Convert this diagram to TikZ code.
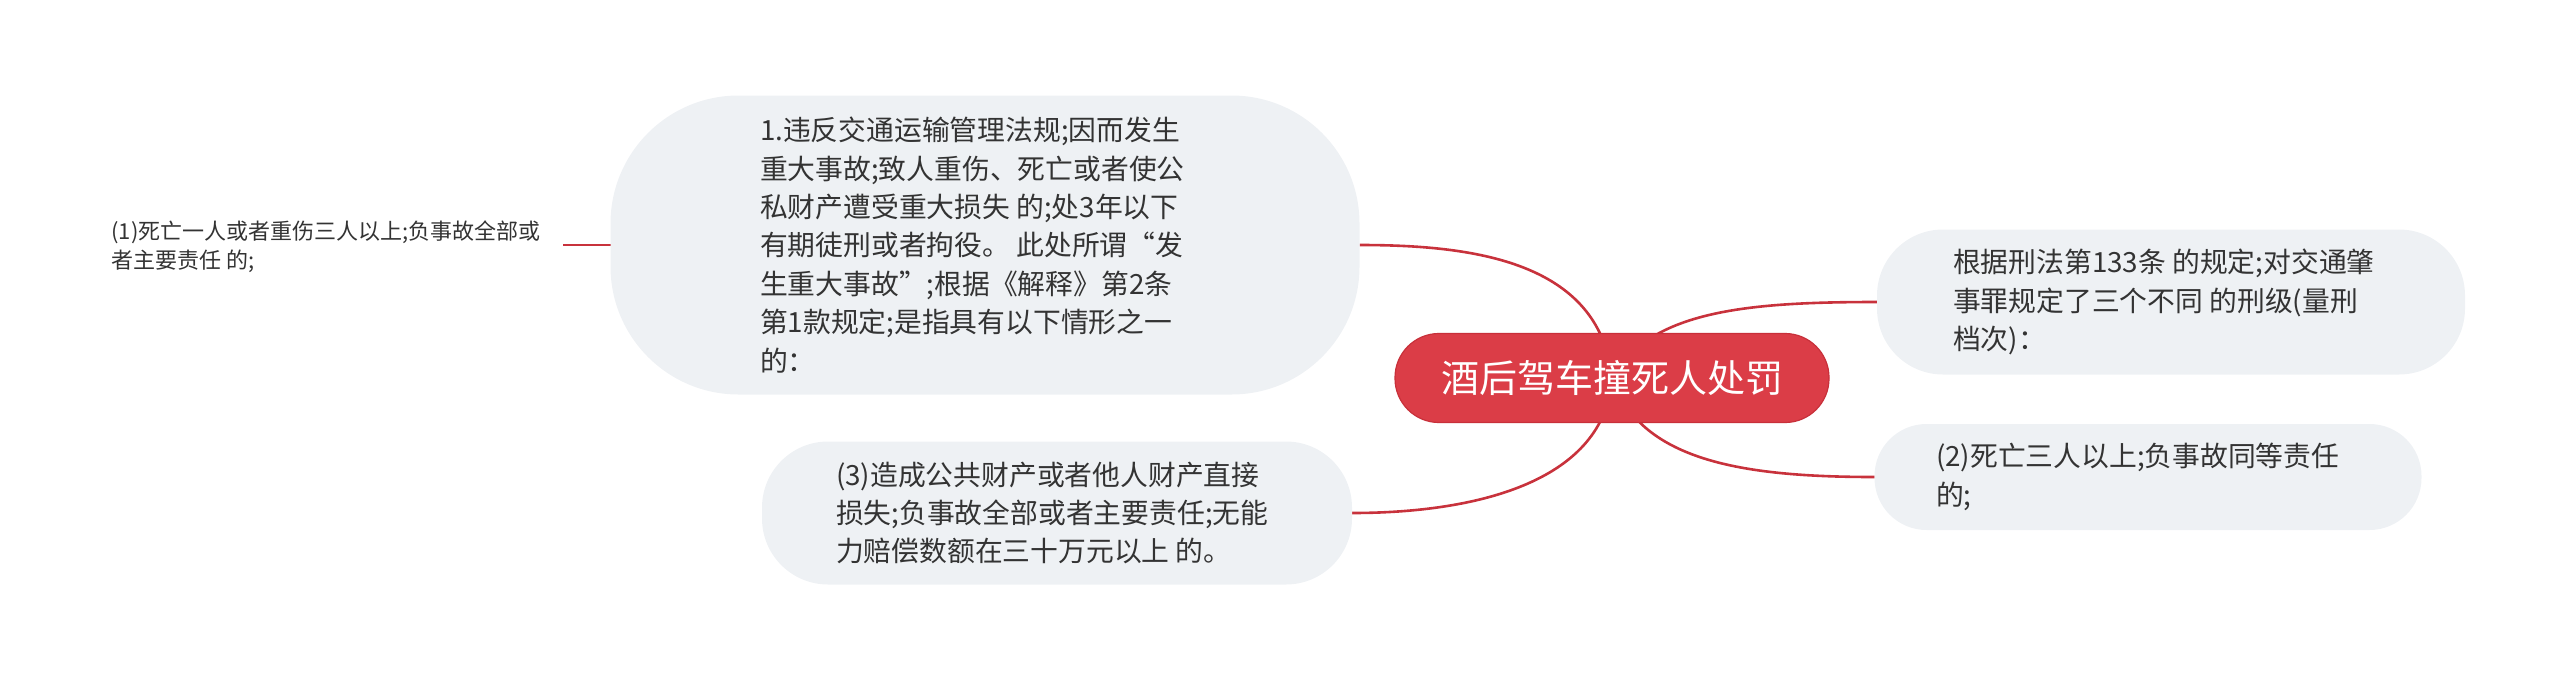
\documentclass[tikz,border=0pt]{standalone}
\usepackage{fontspec}
\setmainfont{Noto Sans CJK SC}
\usetikzlibrary{backgrounds}
\definecolor{rootred}{HTML}{DB3D47}
\definecolor{rootline}{HTML}{C8303A}
\definecolor{branchred}{HTML}{C8323C}
\definecolor{boxgrey}{HTML}{EEF1F4}
\definecolor{textgrey}{HTML}{333333}
\begin{document}
\begin{tikzpicture}[x=0.5pt, y=-0.5pt,
	every node/.style={inner sep=0pt, outer sep=0pt, text=textgrey, align=left},
	topic/.style={fill=boxgrey, align=flush left, font=\fontsize{13.9pt}{19.2pt}\selectfont},
	branch/.style={draw=branchred, line width=1.3pt}]
		\useasboundingbox (0,0) rectangle (2560,681);

		\node[fill=rootred, draw=rootline, line width=0.6pt, rounded corners=22pt, minimum width=217pt, minimum height=44.5pt, text=white, font=\fontsize{19pt}{22pt}\selectfont] (root) at (1612,378) {酒后驾车撞死人处罚};

		\node[topic, rounded corners=64pt, minimum width=374.5pt, minimum height=149.5pt, text width=225pt] (law) at (985,245) {1.违反交通运输管理法规;因而发生\\重大事故;致人重伤、死亡或者使公\\私财产遭受重大损失 的;处3年以下\\有期徒刑或者拘役。 此处所谓“发\\生重大事故”;根据《解释》第2条\\第1款规定;是指具有以下情形之一\\的：};
		\node[topic, rounded corners=33pt, minimum width=294pt, minimum height=72.5pt, text width=218pt] (grade) at (2171,302) {根据刑法第133条 的规定;对交通肇\\事罪规定了三个不同 的刑级(量刑\\档次)：};
		\node[topic, rounded corners=26pt, minimum width=273.5pt, minimum height=53pt, text width=212pt] (three) at (2148,477) {(2)死亡三人以上;负事故同等责任\\的;};
		\node[topic, rounded corners=33pt, minimum width=295pt, minimum height=71.5pt, text width=221pt] (loss) at (1057,513) {(3)造成公共财产或者他人财产直接\\损失;负事故全部或者主要责任;无能\\力赔偿数额在三十万元以上 的。};

		\node[font=\fontsize{11pt}{14.5pt}\selectfont, inner xsep=11pt, inner ysep=2pt] (one) at (326,247) {(1)死亡一人或者重伤三人以上;负事故全部或\\者主要责任 的;};

		\begin{scope}[on background layer]
			\draw[branch] (root.center) .. controls (1600,260) and (1470,245) .. (law.east);
			\draw[branch] (root.center) .. controls (1650,310) and (1750,302) .. (grade.west);
			\draw[branch] (root.center) .. controls (1640,460) and (1740,477) .. (three.west);
			\draw[branch] (root.center) .. controls (1605,480) and (1480,513) .. (loss.east);
			\draw[branch] (law.west) -- (one.east |- law.west);
		\end{scope}
	\end{tikzpicture}
\end{document}
